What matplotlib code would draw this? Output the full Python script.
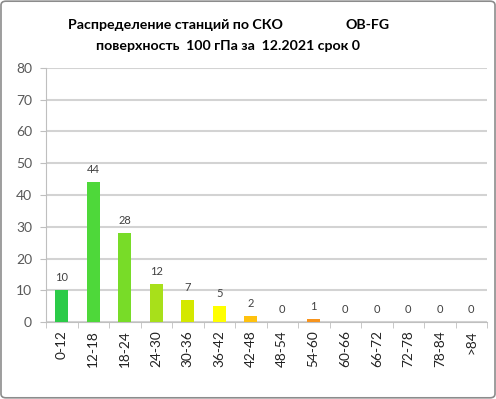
import matplotlib
matplotlib.use("Agg")
import matplotlib.pyplot as plt
from matplotlib.patches import FancyBboxPatch

categories = ["0-12", "12-18", "18-24", "24-30", "30-36", "36-42", "42-48",
              "48-54", "54-60", "60-66", "66-72", "72-78", "78-84", ">84"]
values = [10, 44, 28, 12, 7, 5, 2, 0, 1, 0, 0, 0, 0, 0]
colors = ["#2BCB48", "#4ED83A", "#78DC28", "#A8E01A", "#D4E800", "#FFFF00",
          "#FFC20E", "#F7941D", "#F7941D", "#F7941D", "#F7941D", "#F7941D",
          "#F7941D", "#F7941D"]
title1a = "Распределение станций по СКО"
title1b = "OB-FG"
title2 = "поверхность  100 гПа за  12.2021 срок 0"

plt.rcParams['font.family'] = ['Lato', 'DejaVu Sans']

fig = plt.figure(figsize=(4.96, 3.99), dpi=100)
ax = fig.add_axes([46/496, 1-322/399, (487-46)/496, (322-68)/399])

x = list(range(len(categories)))
ax.bar(x, values, width=0.4, color=colors, edgecolor='none', zorder=3)
for xi, v in zip(x, values):
    ax.text(xi, v + 2.2, str(v), ha='center', va='bottom', fontsize=8, color='#404040')

ax.set_xlim(-0.5, len(categories) - 0.5)
ax.set_ylim(0, 80)
ax.set_yticks(range(0, 81, 10))
ax.tick_params(axis='y', labelsize=10, colors='#595959', length=4, color='#BFBFBF', pad=6)
ax.set_xticks(x)
ax.set_xticklabels(categories, rotation=90, fontsize=9.8, color='#222222')
ax.tick_params(axis='x', length=0, pad=6)
ax.set_xticks([i + 0.5 for i in range(-1, len(categories))], minor=True)
ax.tick_params(axis='x', which='minor', length=4, color='#BFBFBF')
ax.grid(axis='y', color='#D3D3D3', linewidth=1.5, zorder=0)
for s in ['top', 'right']:
    ax.spines[s].set_visible(False)
ax.spines['left'].set_color('#BFBFBF')
ax.spines['bottom'].set_color('#BFBFBF')

fig.text(68/496, 1-25/399, title1a, fontsize=10.2, fontweight='bold', ha='left', va='center')
fig.text(345/496, 1-25/399, title1b, fontsize=10.2, fontweight='bold', ha='left', va='center')
fig.text(228/496, 1-46/399, title2, fontsize=10.2, fontweight='bold', ha='center', va='center')

border = FancyBboxPatch((0.002, 0.003), 0.996, 0.994, boxstyle="round,pad=0,rounding_size=0.01",
                        transform=fig.transFigure, fill=False, edgecolor='#8C8C8C', linewidth=1.2)
fig.patches.append(border)

fig.savefig("out.png", dpi=100)
